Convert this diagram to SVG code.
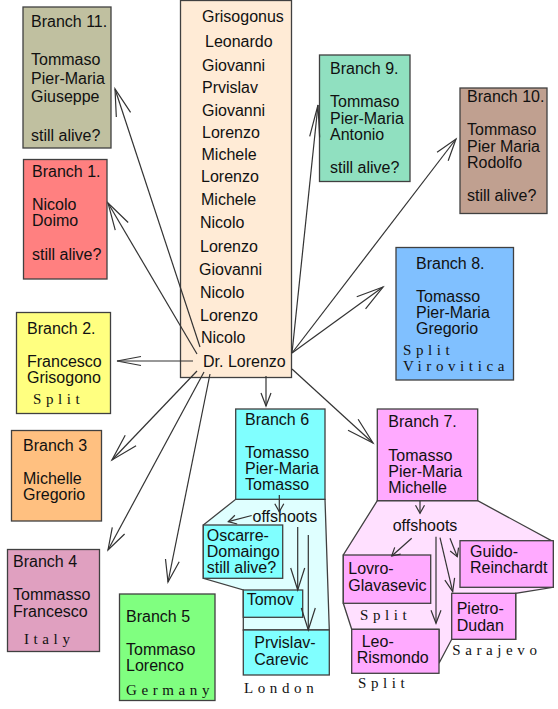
<svg xmlns="http://www.w3.org/2000/svg" width="558" height="709" viewBox="0 0 558 709">
<style>
.box{stroke:#404040;stroke-width:1.3}
.t{font-family:"Liberation Sans",Arial,sans-serif;font-size:16px;fill:#111}
.loc{font-family:"Liberation Serif","Times New Roman",serif;font-size:15px;letter-spacing:4.6px;fill:#111}
.con{stroke:#333;stroke-width:1.2;fill:none}
.ah{stroke:#333;stroke-width:1.2;fill:none}
</style>
<defs>
<marker id="lg" markerUnits="userSpaceOnUse" orient="auto" refX="0" refY="0" markerWidth="40" markerHeight="40" overflow="visible"><path class="ah" d="M-27,-7.5 L0,0 L-27,7.5"/></marker>
<marker id="md" markerUnits="userSpaceOnUse" orient="auto" refX="0" refY="0" markerWidth="40" markerHeight="40" overflow="visible"><path class="ah" d="M-22,-7 L0,0 L-22,7"/></marker>
<marker id="nar" markerUnits="userSpaceOnUse" orient="auto" refX="0" refY="0" markerWidth="40" markerHeight="40" overflow="visible"><path class="ah" d="M-24,-4.5 L0,0 L-24,4.5"/></marker>
<marker id="lnar" markerUnits="userSpaceOnUse" orient="auto" refX="0" refY="0" markerWidth="40" markerHeight="40" overflow="visible"><path class="ah" d="M-32,-5 L0,0 L-32,5"/></marker>
<marker id="sm" markerUnits="userSpaceOnUse" orient="auto" refX="0" refY="0" markerWidth="40" markerHeight="40" overflow="visible"><path class="ah" d="M-13,-5 L0,0 L-13,5"/></marker>
<marker id="xs" markerUnits="userSpaceOnUse" orient="auto" refX="0" refY="0" markerWidth="40" markerHeight="40" overflow="visible"><path class="ah" d="M-8,-4.5 L0,0 L-8,4.5"/></marker>
</defs>
<rect width="558" height="709" fill="#ffffff"/>

<g id="center">
<rect class="box" x="180.5" y="0.5" width="111" height="377" fill="#ffebd6" stroke="#7a7a7a"/>
<text class="t"><tspan x="202" y="22">Grisogonus</tspan><tspan x="205" y="47">Leonardo</tspan><tspan x="202" y="71">Giovanni</tspan><tspan x="202" y="93">Prvislav</tspan><tspan x="202" y="116">Giovanni</tspan><tspan x="202" y="138">Lorenzo</tspan><tspan x="201.5" y="160">Michele</tspan><tspan x="201" y="182">Lorenzo</tspan><tspan x="201" y="205">Michele</tspan><tspan x="200" y="228">Nicolo</tspan><tspan x="200" y="252">Lorenzo</tspan><tspan x="199" y="275">Giovanni</tspan><tspan x="200" y="298">Nicolo</tspan><tspan x="200" y="321">Lorenzo</tspan><tspan x="201" y="343">Nicolo</tspan><tspan x="203" y="367">Dr. Lorenzo</tspan></text>
</g>

<g id="branch11">
<rect class="box" x="23" y="7" width="88" height="141" fill="#c0c0a0"/>
<text class="t"><tspan x="31" y="27">Branch 11.</tspan><tspan x="31" y="65">Tommaso</tspan><tspan x="31" y="84">Pier-Maria</tspan><tspan x="31" y="102">Giuseppe</tspan><tspan x="31" y="140.5">still alive?</tspan></text>
</g>

<g id="branch1">
<rect class="box" x="23.5" y="159.5" width="83.5" height="119.5" fill="#ff8080"/>
<text class="t"><tspan x="32" y="177">Branch 1.</tspan><tspan x="32" y="209.5">Nicolo</tspan><tspan x="32" y="226">Doimo</tspan><tspan x="32" y="259.5">still alive?</tspan></text>
</g>

<g id="branch2">
<rect class="box" x="16.5" y="312.5" width="94" height="101" fill="#ffff80"/>
<text class="t"><tspan x="27" y="333.5">Branch 2.</tspan><tspan x="27" y="366.5">Francesco</tspan><tspan x="27" y="382.5">Grisogono</tspan></text>
<text class="loc" x="33" y="403.5">Split</text>
</g>

<g id="branch3">
<rect class="box" x="11.5" y="430.5" width="90" height="90.5" fill="#ffc080"/>
<text class="t"><tspan x="23" y="450.5">Branch 3</tspan><tspan x="23" y="483.5">Michelle</tspan><tspan x="23" y="499.5">Gregorio</tspan></text>
</g>

<g id="branch4">
<rect class="box" x="7.5" y="549.5" width="92" height="102" fill="#e0a0c0"/>
<text class="t"><tspan x="13" y="566.5">Branch 4</tspan><tspan x="13" y="600">Tommasso</tspan><tspan x="13" y="616.5">Francesco</tspan></text>
<text class="loc" x="24" y="643.5">Italy</text>
</g>

<g id="branch5">
<rect class="box" x="119.5" y="594" width="95.5" height="106.5" fill="#80ff80"/>
<text class="t"><tspan x="126" y="621.5">Branch 5</tspan><tspan x="126" y="654.5">Tommaso</tspan><tspan x="126" y="671">Lorenco</tspan></text>
<text class="loc" x="126" y="695">Germany</text>
</g>

<g id="branch9">
<rect class="box" x="319.5" y="55" width="90.5" height="126.5" fill="#90e0c0"/>
<text class="t"><tspan x="330" y="74">Branch 9.</tspan><tspan x="330" y="107">Tommaso</tspan><tspan x="330" y="124">Pier-Maria</tspan><tspan x="330" y="140">Antonio</tspan><tspan x="330" y="172.5">still alive?</tspan></text>
</g>

<g id="branch10">
<rect class="box" x="460" y="88" width="87" height="125.5" fill="#c0a090"/>
<text class="t"><tspan x="467" y="102">Branch 10.</tspan><tspan x="467" y="135">Tommaso</tspan><tspan x="467" y="151.5">Pier Maria</tspan><tspan x="467" y="167.5">Rodolfo</tspan><tspan x="467" y="201">still alive?</tspan></text>
</g>

<g id="branch8">
<rect class="box" x="396" y="247.5" width="117.5" height="132.5" fill="#80c0ff"/>
<text class="t"><tspan x="416" y="268.5">Branch 8.</tspan><tspan x="416" y="301.5">Tomasso</tspan><tspan x="416" y="317.5">Pier-Maria</tspan><tspan x="416" y="333.5">Gregorio</tspan></text>
<text class="loc"><tspan x="403" y="355">Split</tspan><tspan x="403" y="371">Virovitica</tspan></text>
</g>

<g id="branch6-offshoots-area">
<polygon class="box" points="235.7,499.3 325,499.3 329.3,630 243.3,630 243.3,590 203.3,578.3 203.3,525" fill="#dfffff"/>
</g>
<g id="branch6">
<rect class="box" x="235.7" y="409" width="89.3" height="90.3" fill="#80ffff"/>
<text class="t"><tspan x="245" y="424.5">Branch 6</tspan><tspan x="245" y="457.5">Tomasso</tspan><tspan x="245" y="473.5">Pier-Maria</tspan><tspan x="245" y="489.5">Tomasso</tspan></text>
</g>
<g id="offshoots6"><text class="t" x="252.5" y="521.7">offshoots</text></g>
<g id="oscarre">
<rect class="box" x="203.3" y="525" width="79.4" height="53.3" fill="#80ffff"/>
<text class="t"><tspan x="206.7" y="540.7">Oscarre-</tspan><tspan x="206.7" y="556.7">Domaingo</tspan><tspan x="206.7" y="572.7">still alive?</tspan></text>
</g>
<g id="tomov">
<rect class="box" x="243.3" y="590" width="59.4" height="27.3" fill="#80ffff"/>
<text class="t" x="246.7" y="605">Tomov</text>
</g>
<g id="prvislav">
<rect class="box" x="243.3" y="630" width="86" height="45" fill="#80ffff"/>
<text class="t"><tspan x="254.3" y="648.3">Prvislav-</tspan><tspan x="254.3" y="665">Carevic</tspan></text>
<text class="loc" x="244" y="693.3">London</text>
</g>

<g id="branch7-offshoots-area">
<polygon class="box" points="377.3,500.7 477.7,500.7 553.3,541.7 553.3,587.3 515.7,593.3 515.7,639.3 451.7,639.3 439,663.3 439,629.3 351.7,629.3 343.3,603.3 343.3,555" fill="#ffe0ff"/>
</g>
<g id="branch7">
<rect class="box" x="377.3" y="409" width="100.4" height="91.7" fill="#ffaaff"/>
<text class="t"><tspan x="388.3" y="427.3">Branch 7.</tspan><tspan x="388.3" y="460.7">Tomasso</tspan><tspan x="388.3" y="476.7">Pier-Maria</tspan><tspan x="388.3" y="492.7">Michelle</tspan></text>
</g>
<g id="offshoots7"><text class="t" x="392.7" y="531">offshoots</text></g>
<g id="lovro">
<rect class="box" x="343.3" y="555" width="87.4" height="48.3" fill="#ffaaff"/>
<text class="t"><tspan x="348.3" y="574">Lovro-</tspan><tspan x="348.3" y="590.7">Glavasevic</tspan></text>
<text class="loc" x="360" y="620">Split</text>
</g>
<g id="leo">
<rect class="box" x="351.7" y="629.3" width="87.3" height="44" fill="#ffaaff"/>
<text class="t"><tspan x="361.7" y="646.7">Leo-</tspan><tspan x="356.7" y="662.7">Rismondo</tspan></text>
<text class="loc" x="358" y="688.3">Split</text>
</g>
<g id="pietro">
<rect class="box" x="451.7" y="593.3" width="64" height="46" fill="#ffaaff"/>
<text class="t"><tspan x="456.7" y="614">Pietro-</tspan><tspan x="456.7" y="630.7">Dudan</tspan></text>
<text class="loc" x="452.3" y="655">Sarajevo</text>
</g>
<g id="guido">
<rect class="box" x="460" y="540.7" width="93.3" height="46.6" fill="#ffaaff"/>
<text class="t"><tspan x="470" y="556.7">Guido-</tspan><tspan x="470" y="573.3">Reinchardt</tspan></text>
</g>

<g id="connectors">
<line class="con" x1="200" y1="347" x2="115" y2="89" marker-end="url(#lg)"/>
<line class="con" x1="197" y1="354" x2="108" y2="203" marker-end="url(#lg)"/>
<line class="con" x1="193" y1="361" x2="117" y2="361" marker-end="url(#nar)"/>
<line class="con" x1="197" y1="371" x2="112" y2="460" marker-end="url(#lg)"/>
<line class="con" x1="204" y1="372" x2="108" y2="550" marker-end="url(#md)"/>
<line class="con" x1="210" y1="374" x2="168" y2="582" marker-end="url(#md)"/>
<line class="con" x1="266" y1="376" x2="266" y2="406" marker-end="url(#sm)"/>
<line class="con" x1="292" y1="369" x2="373" y2="443" marker-end="url(#lg)"/>
<line class="con" x1="292" y1="353" x2="383" y2="287" marker-end="url(#lg)"/>
<line class="con" x1="292" y1="353" x2="456" y2="139" marker-end="url(#md)"/>
<line class="con" x1="292" y1="353" x2="318" y2="105" marker-end="url(#lnar)"/>
<line class="con" x1="279.3" y1="495" x2="279.3" y2="511.7" marker-end="url(#xs)"/>
<line class="con" x1="251.7" y1="515.5" x2="228.3" y2="521.7" marker-end="url(#xs)"/>
<line class="con" x1="297.7" y1="527" x2="297.7" y2="590" marker-end="url(#md)"/>
<line class="con" x1="308.3" y1="535" x2="308.3" y2="630" marker-end="url(#md)"/>
<line class="con" x1="420" y1="500.7" x2="420" y2="513.3" marker-end="url(#xs)"/>
<line class="con" x1="411.7" y1="538.3" x2="391.7" y2="556" marker-end="url(#xs)"/>
<line class="con" x1="436" y1="536.7" x2="436" y2="623.3" marker-end="url(#sm)"/>
<line class="con" x1="440" y1="537.7" x2="452.7" y2="591.7" marker-end="url(#sm)"/>
<line class="con" x1="450" y1="538.3" x2="457.3" y2="556.7" marker-end="url(#xs)"/>
</g>
</svg>
